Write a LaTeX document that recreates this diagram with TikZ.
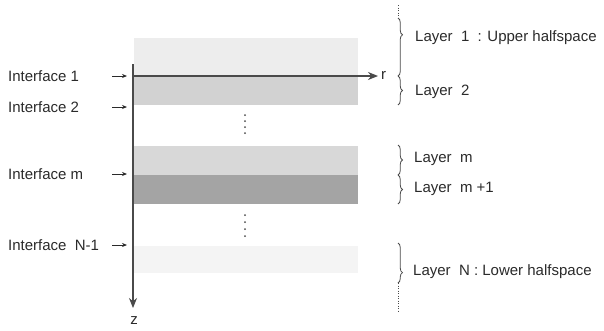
\documentclass[tikz,border=0pt]{standalone}
\usepackage{fontspec}
\setmainfont{Liberation Sans}
\usetikzlibrary{arrows.meta,decorations.pathreplacing}
\definecolor{ink}{HTML}{2A2A2A}
\definecolor{axisgray}{HTML}{4A4A4A}
\definecolor{halfup}{HTML}{EDEDED}
\definecolor{layertwo}{HTML}{D2D2D2}
\definecolor{layerm}{HTML}{D8D8D8}
\definecolor{layermp}{HTML}{A4A4A4}
\definecolor{halflow}{HTML}{F4F4F4}
\tikzset{
  lbl/.style={font=\fontsize{15}{17}\selectfont, text=ink, inner sep=0pt},
  axis/.style={draw=axisgray, line width=1.2pt, -{Stealth[length=10pt,width=8pt]}},
  ifarrow/.style={draw=ink, line width=0.8pt, -{Stealth[length=5pt,width=4pt]}},
  bracestyle/.style={draw=axisgray, line width=0.8pt, decorate},
  dotline/.style={draw=axisgray, line width=0.8pt, dash pattern=on 1pt off 1.5pt},
  vdot/.style={circle, fill=axisgray, inner sep=0pt, minimum size=2pt}
}
\begin{document}
\begin{tikzpicture}[x=1pt,y=-1pt]
\useasboundingbox (0,0) rectangle (604,330);
% layers
\fill[halfup]   (134,38)  rectangle (358,76);
\fill[layertwo] (134,76)  rectangle (358,105);
\fill[layerm]   (134,146) rectangle (358,175);
\fill[layermp]  (134,175) rectangle (358,204);
\fill[halflow]  (134,246) rectangle (358,273);
% ellipsis dots between layers
\foreach \yy [count=\i] in {115,121,127,133} \node[vdot] (dA\i) at (245,\yy) {};
\foreach \yy [count=\i] in {215,222,229,236} \node[vdot] (dB\i) at (245,\yy) {};
% axes
\coordinate (zstart) at (133,64);
\coordinate (zend) at (133,308);
\coordinate (rstart) at (133,76);
\coordinate (rend) at (378,76);
\draw[axis] (rstart) -- (rend);
\draw[axis] (zstart) -- (zend);
\node[lbl, anchor=west] (rlab) at (381,75) {r};
\node[lbl] (zlab) at (134,321) {z};
% interfaces
\node[lbl, anchor=west] (if1) at (8,76) {Interface 1};
\node[lbl, anchor=west] (if2) at (8,107) {Interface 2};
\node[lbl, anchor=west] (ifm) at (8,174) {Interface m};
\node[lbl, anchor=west] (ifn) at (8,245) {Interface\ \ N-1};
\foreach \n/\yy in {1/76,2/107,m/174,n/245}{
  \coordinate (ia\n) at (112,\yy);
  \coordinate (ib\n) at (127,\yy);
  \draw[ifarrow] (ia\n) -- (ib\n);
}
% braces on the right
\coordinate (b0) at (398,18);
\coordinate (b1) at (398,76);
\coordinate (b2) at (398,105);
\coordinate (b3) at (398,145);
\coordinate (b4) at (398,175);
\coordinate (b5) at (398,204);
\coordinate (b6) at (398,243);
\coordinate (b7) at (398,283);
\coordinate (top) at (398,5);
\coordinate (bot) at (398,311);
\draw[dotline] (top) -- (b0);
\draw[dotline] (b7) -- (bot);
\draw[bracestyle, decoration={brace, amplitude=4.5pt, aspect=0.29}] (b0) -- (b1);
\draw[bracestyle, decoration={brace, amplitude=4.5pt}] (b1) -- (b2);
\draw[bracestyle, decoration={brace, amplitude=4.5pt}] (b3) -- (b4);
\draw[bracestyle, decoration={brace, amplitude=4.5pt}] (b4) -- (b5);
\draw[bracestyle, decoration={brace, amplitude=4.5pt, aspect=0.74}] (b6) -- (b7);
\node[lbl, anchor=west] (l1) at (415,38) {Layer\ \ 1\ \ : Upper halfspace};
\node[lbl, anchor=west] (l2) at (415,92) {Layer\ \ 2};
\node[lbl, anchor=west] (lm) at (414,159) {Layer\ \ m};
\node[lbl, anchor=west] (lmp) at (414,189) {Layer\ \ m +1};
\node[lbl, anchor=west] (ln) at (413,272) {Layer\ \ N : Lower halfspace};
\end{tikzpicture}
\end{document}
